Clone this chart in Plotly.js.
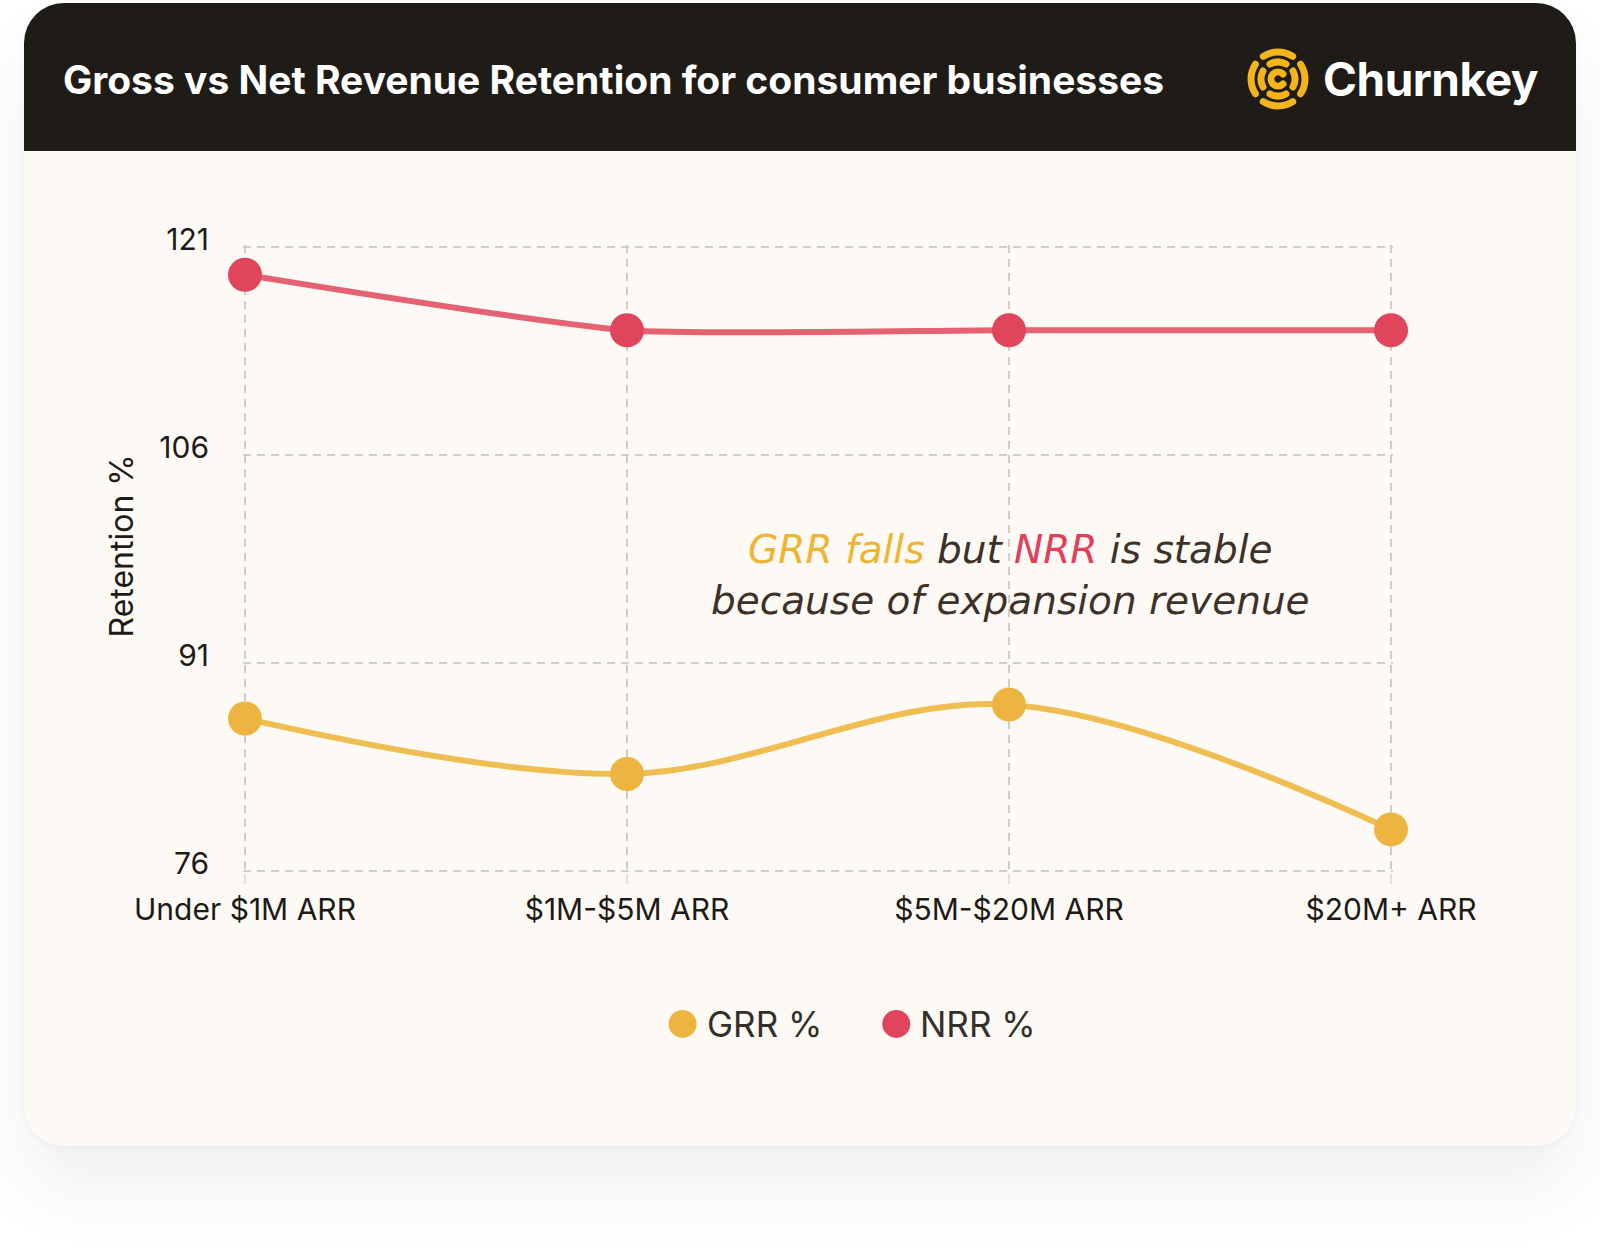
<!DOCTYPE html>
<html>
<head>
<meta charset="utf-8">
<script src="https://cdn.plot.ly/plotly-3.0.1.min.js"></script>
<style>
  body { margin: 0; background: #ffffff; width: 1600px; height: 1250px; position: relative; overflow: hidden; }
  #card {
    position: absolute; left: 24px; top: 3px; width: 1552px; height: 1143px;
    border-radius: 40px; background: #fdfaf5; overflow: hidden;
    box-shadow: 0 45px 70px rgba(70, 60, 50, 0.07), 0 2px 6px rgba(0, 0, 0, 0.04);
  }
  #header { height: 148px; background: #1f1b17; }
  #logo { position: absolute; left: 1245px; top: 46px; display: flex; align-items: center; }
  #logo span { font-family: Inter, sans-serif; font-weight: 700; font-size: 46px; color: #ffffff; margin-left: 12px; letter-spacing: -0.5px; }
  #chart { position: absolute; left: 0; top: 0; width: 1600px; height: 1250px; }
</style>
</head>
<body>
<div id="card"><div id="header"></div></div>
<div id="logo"><svg id="mark" width="66" height="66" viewBox="0 0 66 66"></svg><span>Churnkey</span></div>
<div id="chart"></div>
<script>
// chart data
const categories = ['Under $1M ARR', '$1M-$5M ARR', '$5M-$20M ARR', '$20M+ ARR'];
const grrValues = [87, 83, 88, 79];
const nrrValues = [119, 115, 115, 115];
const yTicks = [76, 91, 106, 121];
const seriesNames = ['GRR %', 'NRR %'];

const markerColors = ['#edb440', '#e0455b'];
const lineColors = ['#f0bd52', '#e46272'];

// logo mark: broken rings
(function drawMark() {
    const svg = document.getElementById('mark');
    const c = 33;
    function arc(r, a0, a1) {
        const p = a => [c + r * Math.cos(a * Math.PI / 180), c + r * Math.sin(a * Math.PI / 180)];
        const s = p(a0), e = p(a1);
        const big = (a1 - a0) > 180 ? 1 : 0;
        return `M${s[0].toFixed(2)},${s[1].toFixed(2)} A${r},${r} 0 ${big} 1 ${e[0].toFixed(2)},${e[1].toFixed(2)}`;
    }
    let d = '';
    [0, 90, 180, 270].forEach(a => {
        d += arc(27, a - 33, a + 33) + ' ';
        d += arc(17, a - 28, a + 28) + ' ';
    });
    d += arc(7, 45, 315);
    svg.innerHTML = `<path d="${d}" fill="none" stroke="#f4b41a" stroke-width="7" stroke-linecap="round"/>`;
})();

// plot area in page pixels (edge gridlines sit 2px inside so plotly keeps them)
const W = 1600, H = 1250;
const L = 245, R = 1391, T = 247, B = 871, pad = 2;
const px = x => (x - L) / (R - L);
const py = y => (B - y) / (B - T);
const xPad = pad * (categories.length - 1) / (R - L);
const yPad = pad * (yTicks[3] - yTicks[0]) / (B - T);

const traces = [
    {
        x: categories, y: grrValues, name: seriesNames[0], type: 'scatter', mode: 'lines+markers',
        line: { color: lineColors[0], width: 6, shape: 'spline', smoothing: 1 },
        marker: { color: markerColors[0], size: 34 },
        showlegend: false, cliponaxis: false
    },
    {
        x: categories, y: nrrValues, name: seriesNames[1], type: 'scatter', mode: 'lines+markers',
        line: { color: lineColors[1], width: 6, shape: 'spline', smoothing: 0.55 },
        marker: { color: markerColors[1], size: 34 },
        showlegend: false, cliponaxis: false
    }
];

// custom legend, big dots like the original
const legendDots = [683, 896];
const legendText = [705, 918];
const legendY = 1021;
const shapes = seriesNames.map((n, i) => ({
    type: 'circle', xref: 'paper', yref: 'paper',
    xsizemode: 'pixel', ysizemode: 'pixel',
    xanchor: px(legendDots[i]), yanchor: py(legendY),
    x0: -14, x1: 14, y0: -14, y1: 14,
    fillcolor: markerColors[i], line: { width: 0 }
}));

const annotations = [
    {
        xref: 'paper', yref: 'paper', x: px(1010), y: py(575), xanchor: 'center', yanchor: 'middle',
        text: '<i><span style="color:#efb433">GRR falls</span> but <span style="color:#e0405a">NRR</span> is stable<br>because of expansion revenue</i>',
        showarrow: false, align: 'center',
        font: { family: '"DejaVu Sans", sans-serif', size: 39, color: '#3d3229' }
    },
    {
        xref: 'paper', yref: 'paper', x: px(124), y: py(546), xanchor: 'center', yanchor: 'middle',
        text: 'Retention %', textangle: -90, showarrow: false,
        font: { family: 'Inter, sans-serif', size: 32, color: '#1d1a17' }
    }
].concat(seriesNames.map((n, i) => ({
    xref: 'paper', yref: 'paper', x: px(legendText[i]), y: py(legendY), xanchor: 'left', yanchor: 'middle',
    text: n, showarrow: false,
    font: { family: 'Inter, sans-serif', size: 35, color: '#33302c' }
})));

const layout = {
    width: W, height: H,
    paper_bgcolor: 'rgba(0,0,0,0)', plot_bgcolor: 'rgba(0,0,0,0)',
    margin: { l: L - pad, r: W - R - pad, t: T - pad, b: H - B - pad },
    showlegend: false,
    title: {
        text: 'Gross vs Net Revenue Retention for consumer businesses',
        xref: 'container', yref: 'container', x: 63 / W, y: 1 - 80 / H,
        xanchor: 'left', yanchor: 'middle',
        font: { family: 'Inter, sans-serif', size: 39, color: '#ffffff', weight: 700 }
    },
    xaxis: {
        type: 'category', range: [-xPad, categories.length - 1 + xPad],
        showgrid: true, gridcolor: '#d3ccc2', gridwidth: 2, griddash: '8px,6px',
        showline: false, zeroline: false,
        ticks: 'outside', ticklen: 10, tickwidth: 2, tickcolor: '#e6e0d7',
        ticklabelstandoff: 0,
        tickfont: { family: 'Inter, sans-serif', size: 30, color: '#1d1a17' }
    },
    yaxis: {
        range: [yTicks[0] - yPad, yTicks[3] + yPad], tickvals: yTicks, ticktext: yTicks.map(String),
        showgrid: true, gridcolor: '#d3ccc2', gridwidth: 2, griddash: '8px,6px',
        showline: false, zeroline: false, ticks: '',
        ticklabelstandoff: 33, ticklabelshift: -8,
        tickfont: { family: 'Inter, sans-serif', size: 30, color: '#1d1a17' }
    },
    shapes: shapes,
    annotations: annotations
};

Plotly.newPlot('chart', traces, layout, { displayModeBar: false, staticPlot: true });
</script>
</body>
</html>
